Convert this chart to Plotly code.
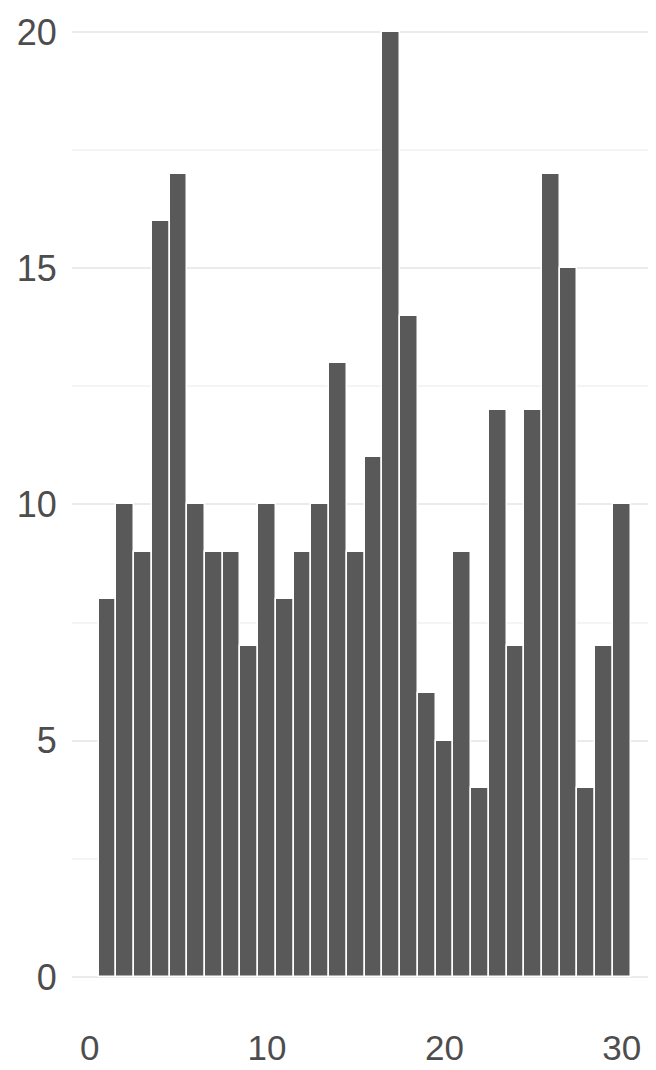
import plotly.graph_objects as go

bins = list(range(1, 31))
counts = [8, 10, 9, 16, 17, 10, 9, 9, 7, 10, 8, 9, 10, 13, 9, 11, 20, 14, 6, 5,
          9, 4, 12, 7, 12, 17, 15, 4, 7, 10]
x_ticks = [0, 10, 20, 30]
y_ticks = [0, 5, 10, 15, 20]

fig = go.Figure()
fig.add_trace(go.Bar(
    x=bins, y=counts, width=1,
    marker=dict(color="#595959", line=dict(color="white", width=1.5)),
    showlegend=False,
))

fig.update_layout(
    width=648, height=1062,
    margin=dict(l=64, r=0, t=0, b=46, autoexpand=False),
    plot_bgcolor="white", paper_bgcolor="white",
    bargap=0,
    font=dict(family="Liberation Sans, Arial, sans-serif", size=36, color="#4d4d4d"),
    xaxis=dict(
        range=[-1, 31.93], tickvals=x_ticks, showgrid=False, zeroline=False,
        ticks="", showline=False, automargin=False,
        tickfont=dict(size=35),
    ),
    yaxis=dict(
        range=[-0.995, 20.508], tickvals=y_ticks, showgrid=True, gridcolor="#ebebeb",
        gridwidth=2, zeroline=False, ticks="outside", ticklen=7,
        tickcolor="rgba(0,0,0,0)", automargin=False,
        minor=dict(dtick=2.5, tick0=2.5, showgrid=True, gridcolor="#f4f4f4", gridwidth=1.5),
    ),
)

fig.write_html("out.html")
